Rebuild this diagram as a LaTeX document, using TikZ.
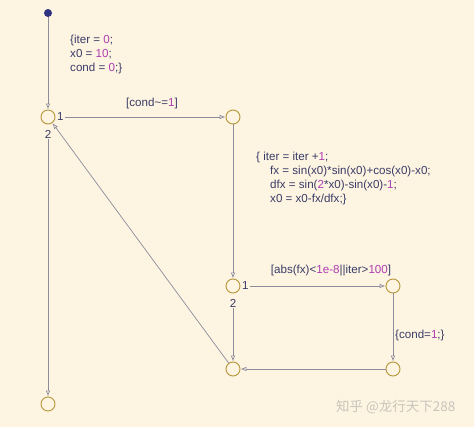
\documentclass[tikz,border=0pt]{standalone}
\usepackage{fontspec}
\setmainfont{Liberation Sans}
\newfontfamily\cjk{Noto Sans CJK SC}
\usetikzlibrary{arrows.meta}
\definecolor{bgc}{HTML}{FDF4E2}
\definecolor{txt}{HTML}{3A3C66}
\definecolor{num}{HTML}{B03CB0}
\definecolor{jcol}{HTML}{B8963A}
\definecolor{lcol}{HTML}{8C8C9C}
\definecolor{dotc}{HTML}{2E3280}
\definecolor{wm}{HTML}{C9C4BC}
\newcommand{\nm}[1]{\textcolor{num}{#1}}
\begin{document}
\begin{tikzpicture}[x=1pt,y=-1pt,
  junc/.style={circle,draw=jcol,line width=0.9pt,minimum size=14pt,inner sep=0pt},
  conn/.style={draw=lcol,line width=0.7pt,-{Latex[open,length=6pt,width=4.5pt]}},
  lab/.style={text=txt,font=\fontsize{11.6}{14}\selectfont,inner sep=0pt}]
\fill[bgc] (0,0) rectangle (474,427);
\useasboundingbox (0,0) rectangle (474,427);
\node[circle,fill=dotc,minimum size=8pt,inner sep=0pt] (s) at (48,13) {};
\node[junc] (A) at (48,117) {};
\node[junc] (B) at (233,117) {};
\node[junc] (C) at (233,286) {};
\node[junc] (D) at (393,286) {};
\node[junc] (E) at (393,369) {};
\node[junc] (F) at (233,369) {};
\node[junc] (G) at (48,404) {};
% labels near junctions
\node[lab,anchor=west] (a1) at (57,117) {1};
\node[lab] (a2) at (48,134) {2};
\node[lab,anchor=west] (c1) at (242,286) {1};
\node[lab] (c2) at (233,303) {2};
\coordinate (a1e) at ([xshift=1pt]a1.east);
\coordinate (a2s) at ([yshift=-1pt]a2.south);
\coordinate (c1e) at ([xshift=1pt]c1.east);
\coordinate (c2s) at ([yshift=-1pt]c2.south);
% connectors
\draw[conn] (s) -- (A);
\draw[conn] (a1e) -- (B);
\draw[conn] (B) -- (C);
\draw[conn] (c1e) -- (D);
\draw[conn] (D) -- (E);
\draw[conn] (E) -- (F);
\draw[conn] (c2s) -- (F);
\draw[conn] (F) -- (A);
\draw[conn] (a2s) -- (G);
% texts
\node[lab,anchor=north west,align=left] (t0) at (70,35) {\{iter = \nm{0};\\x0 = \nm{10};\\cond = \nm{0};\}};
\node[lab] (g1) at (152,104) {[cond\char`\~=\nm{1}]};
\node[lab,anchor=north west,align=left] (t1) at (256,152) {\{ iter = iter +\nm{1};\\
\hspace*{14pt}fx = sin(x0)*sin(x0)+cos(x0)-x0;\\
\hspace*{14pt}dfx = sin(\nm{2}*x0)-sin(x0)-\nm{1};\\
\hspace*{14pt}x0 = x0-fx/dfx;\}};
\node[lab] (g2) at (331,271) {[abs(fx)<\nm{1e-8}||iter>\nm{100}]};
\node[lab,anchor=west] (t2) at (395,336) {\{cond=\nm{1};\}};
\node[text=wm,font=\cjk\fontsize{13.5}{15}\selectfont,anchor=west,inner sep=0pt] (w) at (336,407) {知乎 @龙行天下288};
\end{tikzpicture}
\end{document}
